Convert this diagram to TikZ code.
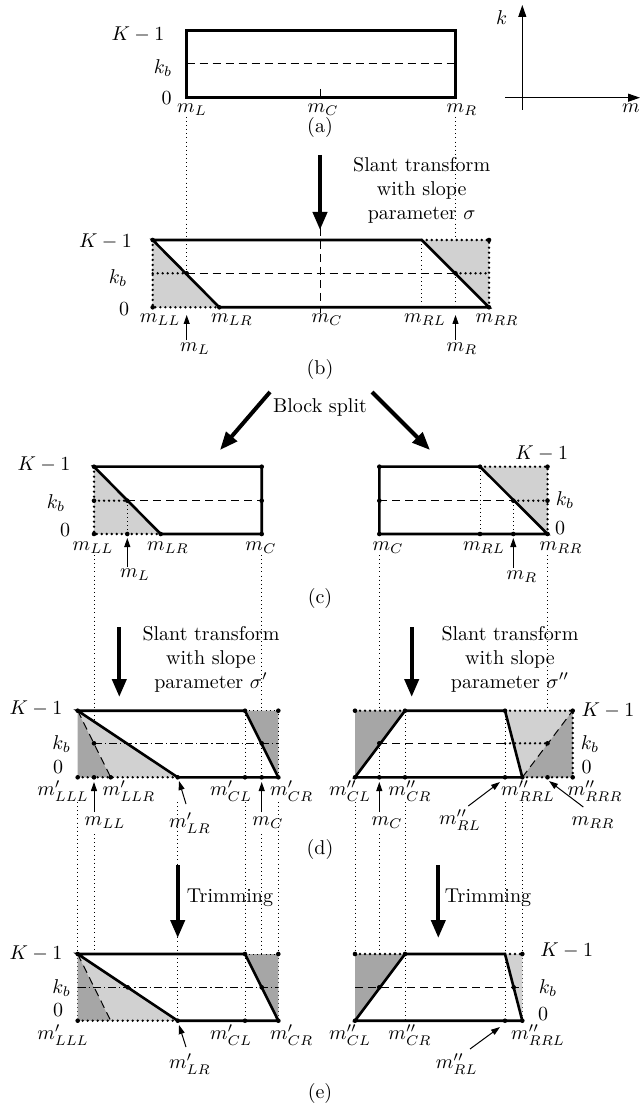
\documentclass[tikz,border=0pt]{standalone}
\usetikzlibrary{arrows.meta}
\begin{document}
\begin{tikzpicture}[x=0.5pt,y=-0.5pt,
  thk/.style={line width=1.3pt, line join=miter},
  thinln/.style={line width=0.5pt},
  dashln/.style={line width=0.5pt, dash pattern=on 4pt off 2.5pt},
  dashdotln/.style={line width=0.5pt, dash pattern=on 4pt off 1.5pt on 0.6pt off 1.5pt},
  dotthin/.style={line width=0.45pt, dash pattern=on 0.45pt off 1.6pt},
  dotthick/.style={line width=1.3pt, dash pattern=on 0pt off 2.5pt, line cap=round},
  bigarrow/.style={line width=2pt, -{Triangle[length=9pt,width=7pt]}},
  ptr/.style={line width=0.5pt, -{Triangle[length=4.5pt,width=3pt]}},
  axisln/.style={line width=0.55pt, -{Triangle[length=6pt,width=4pt]}},
  dot/.style={circle, fill=black, inner sep=0pt, minimum size=2.3pt},
  lab/.style={inner sep=0.5pt},
  lightg/.style={fill=black!18},
  darkg/.style={fill=black!35}]
\path[use as bounding box] (0,0) rectangle (641,1111);

% ================= (a) =================
\draw[thk] (186.7,30.7) rectangle (455.5,97.3);
\draw[dashln] (186.7,63.3) -- (455.5,63.3);
\draw[thinln] (320.7,89) -- (320.7,97.3);
\node[lab] (aK) at (138,35) {$K-1$};
\node[lab] (akb) at (163,68) {$k_b$};
\node[lab] (a0) at (166.7,98.3) {$0$};
\node[lab] (amL) at (192,110) {$m_L$};
\node[lab] (amC) at (323,110) {$m_C$};
\node[lab] (amR) at (462,110) {$m_R$};
\node (capa) at (320,128) {(a)};
% axes
\coordinate (kb0) at (522.3,110);
\coordinate (kt) at (522.3,5);
\coordinate (ml) at (505,97.7);
\coordinate (mr) at (640,97.7);
\draw[axisln] (kb0) -- (kt);
\draw[axisln] (ml) -- (mr);
\node[lab] (axk) at (501.7,18) {$k$};
\node[lab] (axm) at (631,108) {$m$};

% long dotted lines a -> b
\draw[dotthin] (186.7,117) -- (186.7,307.3);
\draw[dotthin] (455.5,117) -- (455.5,307.3);

% arrow a -> b
\coordinate (A1s) at (320,155);
\coordinate (A1e) at (320,230);
\draw[bigarrow] (A1s) -- (A1e);
\node[align=center] (t1) at (421.7,190) {Slant transform\\with slope\\parameter $\sigma$};

% ================= (b) =================
\fill[lightg] (152.7,240) -- (152.7,307.3) -- (219.3,307.3) -- cycle;
\fill[lightg] (421.7,240) -- (489,240) -- (489,307.3) -- cycle;
\draw[dotthin] (421.7,240) -- (421.7,307.3);
\draw[dashln] (186.7,273.3) -- (455.5,273.3);
\draw[dashln] (320,228) -- (320,313);
\draw[dotthick] (152.7,240) -- (152.7,307.3) -- (219.3,307.3);
\draw[dotthick] (421.7,240) -- (489,240) -- (489,307.3);
\draw[dotthick] (152.7,273.3) -- (186.7,273.3);
\draw[dotthick] (455.5,273.3) -- (489,273.3);
\draw[thk] (152.7,240) -- (421.7,240) -- (489,307.3) -- (219.3,307.3) -- cycle;
\foreach \p in {(152.7,240),(489,240),(186.7,273.3),(455.5,273.3),(152.7,307.3),(219.3,307.3),(489,307.3)}
  \node[dot] at \p {};
\node[lab] (bK) at (105.5,242) {$K-1$};
\node[lab] (bkb) at (118,278) {$k_b$};
\node[lab] (b0) at (124,309) {$0$};
\node[lab] (bmLL) at (160,320) {$m_{LL}$};
\node[lab] (bmLR) at (232,320) {$m_{LR}$};
\node[lab] (bmC) at (327,320) {$m_C$};
\node[lab] (bmRL) at (425,320) {$m_{RL}$};
\node[lab] (bmRR) at (497,320) {$m_{RR}$};
\node[lab] (bmL) at (195,349) {$m_L$};
\node[lab] (bmR) at (462,349) {$m_R$};
\coordinate (bpL0) at (186.7,340);
\coordinate (bpL1) at (186.7,315);
\coordinate (bpR0) at (455.5,340);
\coordinate (bpR1) at (455.5,315);
\draw[ptr] (bpL0) -- (bpL1);
\draw[ptr] (bpR0) -- (bpR1);
\node (capb) at (320,370) {(b)};

% block split
\node (tsplit) at (320,408) {Block split};
\coordinate (S1s) at (270,392);
\coordinate (S1e) at (220,450);
\coordinate (S2s) at (372,392);
\coordinate (S2e) at (430,450);
\draw[bigarrow] (S1s) -- (S1e);
\draw[bigarrow] (S2s) -- (S2e);

% ================= (c) left =================
\fill[lightg] (94,466.7) -- (94,534) -- (160.7,534) -- cycle;
\draw[dashln] (127.3,500.7) -- (261.7,500.7);
\draw[dotthin] (127.3,500.7) -- (127.3,534);
\draw[dotthick] (94,466.7) -- (94,534) -- (160.7,534);
\draw[dotthick] (94,500.7) -- (127.3,500.7);
\draw[thk] (94,466.7) -- (261.7,466.7) -- (261.7,534) -- (160.7,534) -- cycle;
\foreach \p in {(94,466.7),(261.7,466.7),(94,500.7),(127.3,500.7),(261.7,500.7),(94,534),(127.3,534),(160.7,534),(261.7,534)}
  \node[dot] at \p {};
\node[lab] (cK) at (44,465) {$K-1$};
\node[lab] (ckb) at (56,503) {$k_b$};
\node[lab] (c0) at (65,530) {$0$};
\node[lab] (cmLL) at (93,548) {$m_{LL}$};
\node[lab] (cmLR) at (168,548) {$m_{LR}$};
\node[lab] (cmC) at (261,548) {$m_C$};
\node[lab] (cmL) at (135,575) {$m_L$};
\coordinate (cpL0) at (127.3,567);
\coordinate (cpL1) at (127.3,538);
\draw[ptr] (cpL0) -- (cpL1);

% ================= (c) right =================
\fill[lightg] (480,466.7) -- (547.5,466.7) -- (547.5,534) -- cycle;
\draw[dashln] (379.3,500.7) -- (513.3,500.7);
\draw[dotthin] (480,466.7) -- (480,534);
\draw[dotthin] (513.3,500.7) -- (513.3,534);
\draw[dotthick] (480,466.7) -- (547.5,466.7) -- (547.5,534);
\draw[dotthick] (513.3,500.7) -- (547.5,500.7);
\draw[thk] (480,466.7) -- (379.3,466.7) -- (379.3,534) -- (547.5,534) -- cycle;
\foreach \p in {(379.3,466.7),(480,466.7),(547.5,466.7),(379.3,500.7),(513.3,500.7),(547.5,500.7),(379.3,534),(480,534),(513.3,534),(547.5,534)}
  \node[dot] at \p {};
\node[lab] (crK) at (541.7,453) {$K-1$};
\node[lab] (crkb) at (565,500) {$k_b$};
\node[lab] (cr0) at (560,528) {$0$};
\node[lab] (crmC) at (388,548) {$m_C$};
\node[lab] (crmRL) at (484,548) {$m_{RL}$};
\node[lab] (crmRR) at (561,548) {$m_{RR}$};
\node[lab] (crmR) at (522,577) {$m_R$};
\coordinate (cpR0) at (513.3,568);
\coordinate (cpR1) at (513.3,538);
\draw[ptr] (cpR0) -- (cpR1);
\node (capc) at (320,598) {(c)};

% long dotted lines c -> d
\draw[dotthin] (94,555) -- (94,777.3);
\draw[dotthin] (261.7,555) -- (261.7,777.3);
\draw[dotthin] (379.3,555) -- (379.3,777.3);
\draw[dotthin] (547.5,555) -- (547.5,777.3);

% arrows c -> d
\coordinate (D1s) at (119.3,627);
\coordinate (D1e) at (119.3,697);
\coordinate (D2s) at (411.7,627);
\coordinate (D2e) at (411.7,697);
\draw[bigarrow] (D1s) -- (D1e);
\draw[bigarrow] (D2s) -- (D2e);
\node[align=center] (t2) at (211,659) {Slant transform\\with slope\\parameter $\sigma'$};
\node[align=center] (t3) at (510,659) {Slant transform\\with slope\\parameter $\sigma''$};

% ================= (d) left =================
\fill[darkg] (77.7,710.7) -- (77.7,777.3) -- (110.7,777.3) -- cycle;
\fill[lightg] (77.7,710.7) -- (110.7,777.3) -- (177.7,777.3) -- cycle;
\fill[darkg] (245,710.7) -- (278.3,710.7) -- (278.3,777.3) -- cycle;
\draw[dashln] (77.7,710.7) -- (110.7,777.3);
\draw[dotthin] (245,710.7) -- (278.3,710.7) -- (278.3,777.3);
\draw[dotthin] (245,710.7) -- (245,777.3);
\draw[dashdotln] (94,743.3) -- (278.3,743.3);
\draw[dotthick] (77.7,777.3) -- (177.7,777.3);
\draw[thk] (77.7,710.7) -- (245,710.7) -- (278.3,777.3) -- (177.7,777.3) -- cycle;
\foreach \p in {(77.7,710.7),(245,710.7),(278.3,710.7),(94,743.3),(261.7,743.3),(77.7,777.3),(94,777.3),(110.7,777.3),(177.7,777.3),(245,777.3),(261.7,777.3),(278.3,777.3)}
  \node[dot] at \p {};
\node[lab] (dK) at (36,708) {$K-1$};
\node[lab] (dkb) at (61.7,744) {$k_b$};
\node[lab] (d0) at (58,767) {$0$};
\node[lab] (dmLLL) at (63,791) {$m'_{LLL}$};
\node[lab] (dmLLR) at (129,791) {$m'_{LLR}$};
\node[lab] (dmCL) at (231,791) {$m'_{CL}$};
\node[lab] (dmCR) at (291.7,791) {$m'_{CR}$};
\node[lab] (dmLL) at (105,823) {$m_{LL}$};
\node[lab] (dmLR) at (190,823) {$m'_{LR}$};
\node[lab] (dmC) at (268,823) {$m_C$};
\coordinate (dp10) at (94,812);
\coordinate (dp11) at (94,782);
\coordinate (dp20) at (186,804);
\coordinate (dp21) at (179,781);
\coordinate (dp30) at (261.7,812);
\coordinate (dp31) at (261.7,782);
\draw[ptr] (dp10) -- (dp11);
\draw[ptr] (dp20) -- (dp21);
\draw[ptr] (dp30) -- (dp31);

% ================= (d) right =================
\fill[darkg] (355,710.7) -- (405,710.7) -- (355,777.3) -- cycle;
\fill[lightg] (505,710.7) -- (572.7,710.7) -- (522.3,777.3) -- cycle;
\fill[darkg] (522.3,777.3) -- (572.7,710.7) -- (572.7,777.3) -- cycle;
\draw[dashln] (522.3,777.3) -- (572.7,710.7);
\draw[dotthin] (405,710.7) -- (405,777.3);
\draw[dotthin] (505,710.7) -- (505,777.3);
\draw[dashln] (379.3,743.3) -- (505,743.3);
\draw[dotthick] (355,710.7) -- (405,710.7);
\draw[dotthick] (505,710.7) -- (572.7,710.7) -- (572.7,777.3) -- (522.3,777.3);
\draw[dotthick] (505,743.3) -- (547.5,743.3);
\draw[thk] (405,710.7) -- (505,710.7) -- (522.3,777.3) -- (355,777.3) -- cycle;
\foreach \p in {(355,710.7),(405,710.7),(505,710.7),(572.7,710.7),(379.3,743.3),(547.5,743.3),(355,777.3),(379.3,777.3),(405,777.3),(505,777.3),(522.3,777.3),(547.5,777.3),(572.7,777.3)}
  \node[dot] at \p {};
\node[lab] (drK) at (608,710) {$K-1$};
\node[lab] (drkb) at (590,744) {$k_b$};
\node[lab] (dr0) at (586.7,767) {$0$};
\node[lab] (drmCL) at (350,791) {$m''_{CL}$};
\node[lab] (drmCR) at (410,791) {$m''_{CR}$};
\node[lab] (drmRRL) at (528,791) {$m''_{RRL}$};
\node[lab] (drmRRR) at (595,791) {$m''_{RRR}$};
\node[lab] (drmC) at (387,823) {$m_C$};
\node[lab] (drmRL) at (460,820) {$m''_{RL}$};
\node[lab] (drmRR) at (593,823) {$m_{RR}$};
\coordinate (dq10) at (379.3,812);
\coordinate (dq11) at (379.3,782);
\coordinate (dq20) at (468.3,806);
\coordinate (dq21) at (500,782);
\coordinate (dq30) at (583.3,807);
\coordinate (dq31) at (549,781);
\draw[ptr] (dq10) -- (dq11);
\draw[ptr] (dq20) -- (dq21);
\draw[ptr] (dq30) -- (dq31);
\node (capd) at (320,849) {(d)};

% long dotted lines d -> e
\draw[dotthin] (77.7,802) -- (77.7,1020.7);
\draw[dotthin] (94,834) -- (94,954);
\draw[dotthin] (177.7,802) -- (177.7,1020.7);
\draw[dotthin] (245,802) -- (245,1020.7);
\draw[dotthin] (261.7,834) -- (261.7,987.3);
\draw[dotthin] (278.3,802) -- (278.3,1020.7);
\draw[dotthin] (355,802) -- (355,1020.7);
\draw[dotthin] (379.3,834) -- (379.3,987.3);
\draw[dotthin] (405,802) -- (405,1020.7);
\draw[dotthin] (505,802) -- (505,1020.7);
\draw[dotthin] (522.3,802) -- (522.3,1020.7);

% arrows d -> e
\coordinate (E1s) at (177.7,865);
\coordinate (E1e) at (177.7,938);
\coordinate (E2s) at (438.3,865);
\coordinate (E2e) at (438.3,938);
\draw[bigarrow] (E1s) -- (E1e);
\draw[bigarrow] (E2s) -- (E2e);
\node (tr1) at (230,898) {Trimming};
\node (tr2) at (488,898) {Trimming};

% ================= (e) left =================
\fill[darkg] (77.7,954) -- (77.7,1020.7) -- (110.7,1020.7) -- cycle;
\fill[lightg] (77.7,954) -- (110.7,1020.7) -- (177.7,1020.7) -- cycle;
\fill[darkg] (245,954) -- (278.3,954) -- (278.3,1020.7) -- cycle;
\draw[dashln] (77.7,954) -- (110.7,1020.7);
\draw[dotthin] (245,954) -- (278.3,954);
\draw[dashdotln] (77.7,987.3) -- (278.3,987.3);
\draw[dotthick] (77.7,1020.7) -- (177.7,1020.7);
\draw[thk] (77.7,954) -- (245,954) -- (278.3,1020.7) -- (177.7,1020.7) -- cycle;
\foreach \p in {(77.7,954),(245,954),(278.3,954),(127.7,987.3),(261.7,987.3),(77.7,1020.7),(177.7,1020.7),(245,1020.7),(278.3,1020.7)}
  \node[dot] at \p {};
\node[lab] (eK) at (36,953) {$K-1$};
\node[lab] (ekb) at (61.7,988) {$k_b$};
\node[lab] (e0) at (58,1010) {$0$};
\node[lab] (emLLL) at (63,1035) {$m'_{LLL}$};
\node[lab] (emCL) at (231,1035) {$m'_{CL}$};
\node[lab] (emCR) at (291.7,1035) {$m'_{CR}$};
\node[lab] (emLR) at (190,1064) {$m'_{LR}$};
\coordinate (ep0) at (186,1047);
\coordinate (ep1) at (179,1025);
\draw[ptr] (ep0) -- (ep1);

% ================= (e) right =================
\fill[darkg] (355,954) -- (405,954) -- (355,1020.7) -- cycle;
\fill[lightg] (505,954) -- (522.3,954) -- (522.3,1020.7) -- cycle;
\draw[dashln] (355,987.3) -- (522.3,987.3);
\draw[dotthick] (355,954) -- (405,954);
\draw[dotthick] (505,954) -- (522.3,954);
\draw[thk] (405,954) -- (505,954) -- (522.3,1020.7) -- (355,1020.7) -- cycle;
\foreach \p in {(355,954),(405,954),(522.3,954),(379.3,987.3),(513.7,987.3),(355,1020.7),(505,1020.7),(522.3,1020.7)}
  \node[dot] at \p {};
\node[lab] (erK) at (566.7,950) {$K-1$};
\node[lab] (erkb) at (548,988) {$k_b$};
\node[lab] (er0) at (543,1014) {$0$};
\node[lab] (ermCL) at (350,1035) {$m''_{CL}$};
\node[lab] (ermCR) at (410,1035) {$m''_{CR}$};
\node[lab] (ermRRL) at (538,1035) {$m''_{RRL}$};
\node[lab] (ermRL) at (456.7,1064) {$m''_{RL}$};
\coordinate (eq0) at (470,1049);
\coordinate (eq1) at (500,1027);
\draw[ptr] (eq0) -- (eq1);
\node (cape) at (320,1093) {(e)};
\end{tikzpicture}
\end{document}
